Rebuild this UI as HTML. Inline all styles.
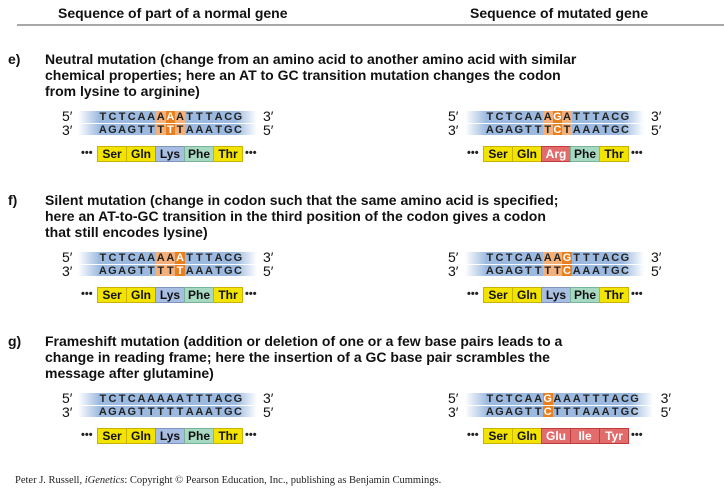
<!DOCTYPE html>
<html><head><meta charset="utf-8"><style>
body{margin:0;width:724px;height:497px;background:#fff;position:relative;overflow:hidden;font-family:"Liberation Sans",sans-serif}
.a{position:absolute;white-space:nowrap}
.hd{font-size:14px;font-weight:bold;color:#111}
.h{font-size:14px;font-weight:bold;color:#111;line-height:16px}
.pr{font-size:14px;color:#111}
.b{position:absolute;font-size:11px;font-weight:bold;color:#222;width:9.65px;text-align:center;line-height:12px}
.bg{position:absolute;height:11.5px}
.pbox{position:absolute;height:16px;top:0;font-size:12px;font-weight:bold;text-align:center;line-height:15px;box-sizing:border-box}
.dots{position:absolute;font-size:11px;font-weight:bold;color:#222}
</style></head><body>
<div class="a hd" style="left:58px;top:5px">Sequence of part of a normal gene</div>
<div class="a hd" style="left:470px;top:5px">Sequence of mutated gene</div>
<div class="a" style="left:17px;top:24px;width:707px;height:2px;background:#a8a8a8"></div>

<div class="a h" style="left:8px;top:51px">e)</div>
<div class="a h" style="left:45px;top:51px">Neutral mutation (change from an amino acid to another amino acid with similar<br>chemical properties; here an AT to GC transition mutation changes the codon<br>from lysine to arginine)</div>
<div class="a h" style="left:8px;top:192px">f)</div>
<div class="a h" style="left:45px;top:192px">Silent mutation (change in codon such that the same amino acid is specified;<br>here an AT-to-GC transition in the third position of the codon gives a codon<br>that still encodes lysine)</div>
<div class="a h" style="left:8px;top:333px">g)</div>
<div class="a h" style="left:45px;top:333px">Frameshift mutation (addition or deletion of one or a few base pairs leads to a<br>change in reading frame; here the insertion of a GC base pair scrambles the<br>message after glutamine)</div>

<div class="a" style="left:15px;top:475px;font-family:'Liberation Serif',serif;font-size:10.5px;color:#222">Peter J. Russell, <i>iGenetics</i>: Copyright © Pearson Education, Inc., publishing as Benjamin Cummings.</div>

<script>
const topSeqs=[["TCTCAAAAATTTACG","TCTCAAAGATTTACG"],["TCTCAAAAATTTACG","TCTCAAAAGTTTACG"],["TCTCAAAAATTTACG","TCTCAAGAAATTTACG"]];
const botSeqs=[["AGAGTTTTTAAATGC","AGAGTTTCTAAATGC"],["AGAGTTTTTAAATGC","AGAGTTTTCAAATGC"],["AGAGTTTTTAAATGC","AGAGTTCTTTAAATGC"]];
const lightIdx=[[[6,8],[6,8]],[[6,8],[6,8]],[null,null]];
const darkIdx=[[7,7],[8,8],[-1,6]];
const proteins=[[["Ser","Gln","Lys","Phe","Thr"],["Ser","Gln","Arg","Phe","Thr"]],[["Ser","Gln","Lys","Phe","Thr"],["Ser","Gln","Lys","Phe","Thr"]],[["Ser","Gln","Lys","Phe","Thr"],["Ser","Gln","Glu","Ile","Tyr"]]];
const colors={Ser:["#f3e400","#c9b300"],Gln:["#f3e400","#c9b300"],Thr:["#f3e400","#c9b300"],Lys:["#a8bde2","#7f95c0"],Phe:["#a6d8c2","#78b39a"],Arg:["#e26b6b","#c23b3b"],Glu:["#e26b6b","#c23b3b"],Ile:["#e26b6b","#c23b3b"],Tyr:["#e26b6b","#c23b3b"]};
const rowTop=[111,252,393];
const colX=[{lab:62,txt:98,bg0:78,end:263,prot:97},{lab:448,txt:485,bg0:465,end:651,prot:483}];
const P=9.65,BW=29;
const body=document.body;
function mk(cls,name,style,text){const d=document.createElement('div');d.className=cls;d.style.cssText=style;if(text!=null)d.textContent=text;


body.appendChild(d);return d;}
for(let r=0;r<3;r++){for(let c=0;c<2;c++){
 const X=colX[c],y=rowTop[r],tag=['e','f','g'][r]+'-'+(c?'mutated':'normal');
 const seqs=[topSeqs[r][c],botSeqs[r][c]];
 const n=seqs[0].length;const bgW=X.txt-X.bg0+n*P+14;
 for(let s=0;s<2;s++){
  const yy=y+s*12.5;
  mk('bg','strand-bg-'+tag+'-'+s,`left:${X.bg0}px;top:${yy}px;width:${bgW}px;background:linear-gradient(90deg,rgba(150,180,220,0) 0%,#9cbae0 12%,#9cbae0 88%,rgba(150,180,220,0) 100%)`);
  const li=lightIdx[r][c];
  if(li)mk('bg','codon-highlight-'+tag+'-'+s,`left:${X.txt+li[0]*P}px;top:${yy}px;width:${(li[1]-li[0]+1)*P}px;background:#f3b07a`);
  const di=darkIdx[r][c];
  if(di>=0)mk('bg','mutated-base-'+tag+'-'+s,`left:${X.txt+di*P}px;top:${yy}px;width:${P}px;background:#e9801f`);
  for(let i=0;i<n;i++){mk('b','base-'+tag+'-'+s+'-'+i,`left:${X.txt+i*P}px;top:${yy}px;${i===di?'color:#fff':''}`,seqs[s][i]);}
  mk('a pr','end-label-'+tag+'-'+s,`left:${X.lab}px;top:${yy-3+s*1.5}px`,s?"3′":"5′");
  mk('a pr','end-label-right-'+tag+'-'+s,`left:${X.end+(n-15)*P}px;top:${yy-3+s*1.5}px`,s?"5′":"3′");
 }
 const py=y+35;
 const prots=proteins[r][c];
 mk('dots','dots-left-'+tag,`left:${X.prot-16}px;top:${py}px;line-height:15px`,'•••');
 prots.forEach((p,i)=>{const col=colors[p];
  mk('pbox','amino-'+p.toLowerCase()+'-'+tag,`left:${X.prot+i*BW}px;top:${py}px;width:${BW+1}px;background:${col[0]};border:1px solid ${col[1]};color:${col[0]==='#e26b6b'?'#fff':'#111'}`,p);});
 mk('dots','dots-right-'+tag,`left:${X.prot+5*BW+3}px;top:${py}px;line-height:15px`,'•••');
}}
</script>
</body></html>
